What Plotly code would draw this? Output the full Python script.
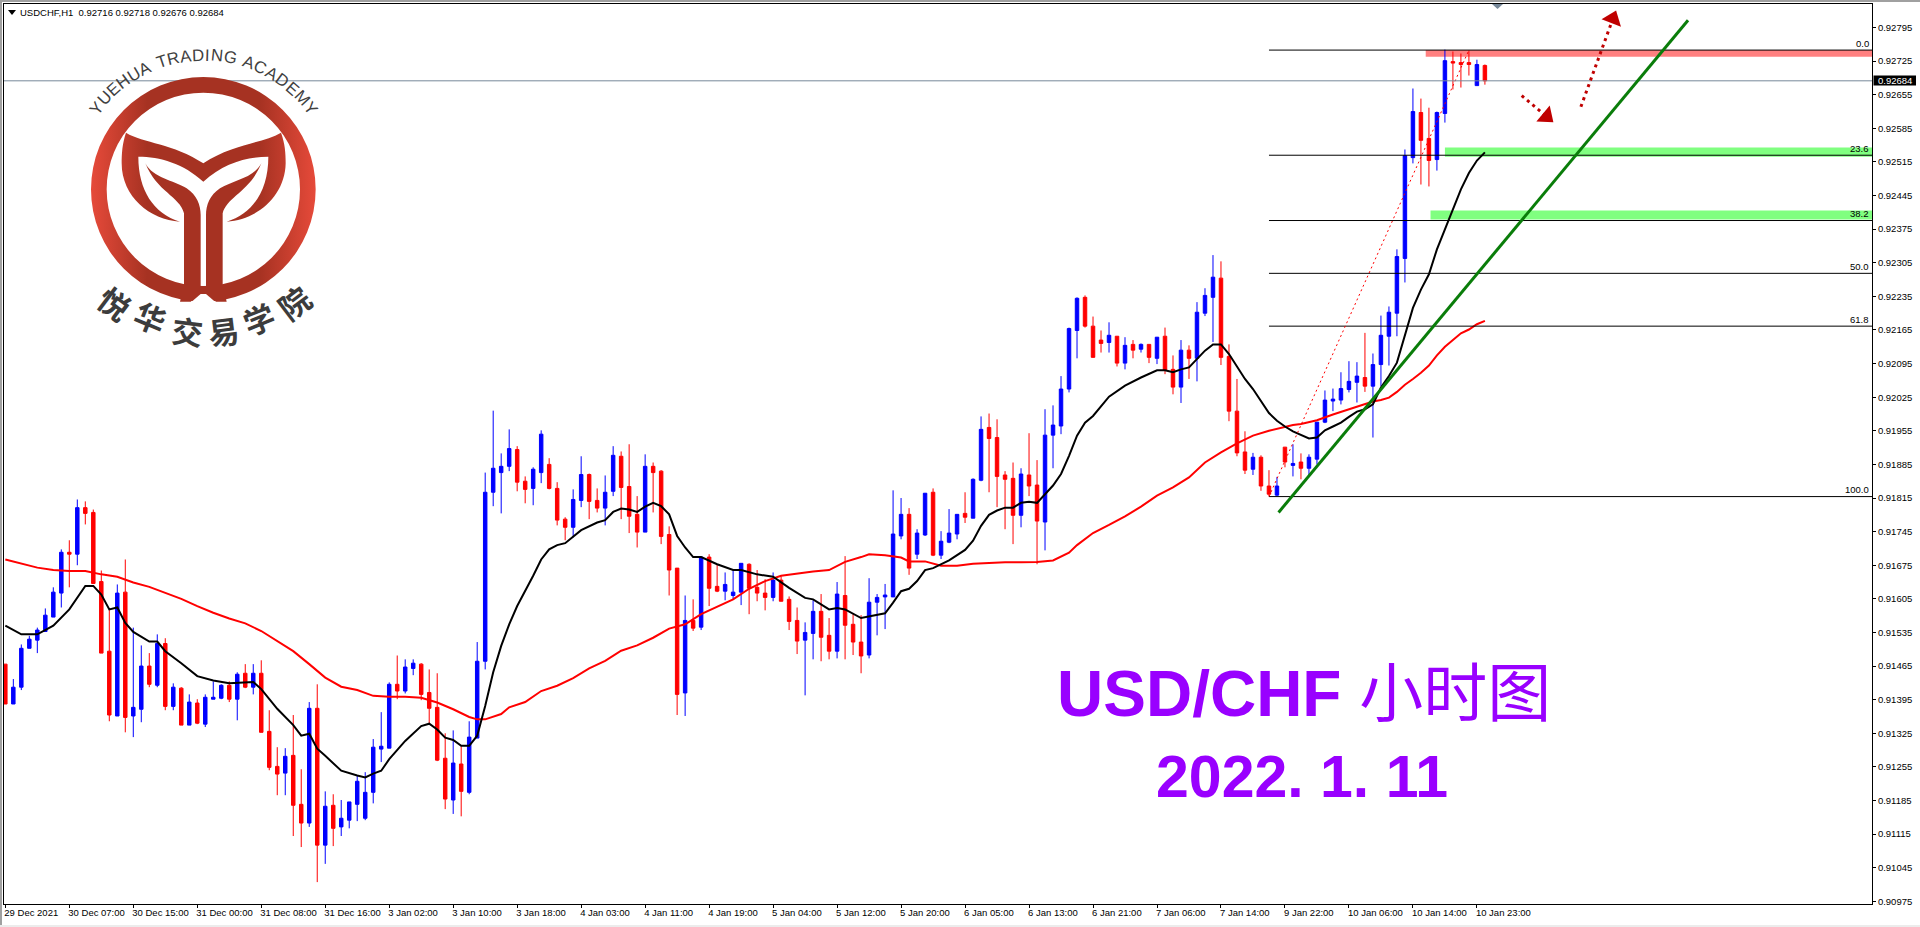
import base64, math
import plotly.graph_objects as go

# ---- data (prices in 1e-5 units, i.e. 91469 = 0.91469) ----
open_pts = [
 91469,91386,91421,91502,91519,91537,91567,91617,91702,91698,
 91795,91785,91641,91496,91361,91619,91361,91375,91465,91425,
 91512,91381,91419,91342,91388,91344,91396,91398,91425,91396,
 91450,91421,91450,91329,91256,91242,91279,91177,91138,91377,
 91092,91175,91130,91144,91177,91148,91202,91292,91294,91427,
 91413,91460,91469,91410,91379,91273,91186,91261,91202,91315,
 91475,91827,91868,91881,91916,91850,91835,91868,91885,91835,
 91771,91754,91810,91864,91810,91794,91829,91902,91839,91781,
 91744,91881,91871,91739,91669,91409,91560,91546,91692,91631,
 91621,91612,91619,91677,91629,91617,91608,91644,91604,91560,
 91519,91533,91579,91529,91496,91612,91552,91515,91488,91598,
 91609,91609,91736,91781,91698,91738,91827,91696,91723,91740,
 91783,91773,91852,91962,91941,91863,91856,91779,91863,91842,
 91765,91946,91965,92042,92164,92233,92173,92144,92139,92152,
 92096,92135,92125,92135,92106,92152,92083,92046,92123,92106,
 92200,92233,92273,92110,91996,91911,91875,91900,91840,91821,
 91921,91883,91890,91877,91896,91973,92017,92019,92041,92056,
 92066,92048,92093,92152,92200,92314,92524,92618,92564,92520,
 92616,92724,92722,92722,92674,92716]
high_pts = [
 91469,91438,91510,91528,91545,91585,91629,91708,91727,91812,
 91808,91791,91664,91583,91635,91687,91545,91508,91492,91531,
 91523,91429,91421,91406,91396,91406,91433,91427,91433,91452,
 91469,91469,91477,91373,91296,91294,91363,91250,91390,91427,
 91204,91198,91186,91182,91238,91244,91313,91369,91431,91487,
 91479,91479,91471,91458,91450,91325,91331,91298,91350,91515,
 91868,91997,91908,91958,91923,91860,91879,91956,91898,91848,
 91775,91833,91902,91866,91835,91862,91923,91912,91927,91819,
 91906,91889,91873,91756,91669,91612,91604,91692,91698,91677,
 91660,91667,91679,91679,91665,91646,91660,91652,91610,91587,
 91556,91602,91615,91565,91640,91694,91573,91571,91648,91615,
 91636,91831,91815,91794,91750,91825,91835,91746,91792,91781,
 91827,91856,91985,91991,91979,91871,91889,91877,91950,91894,
 92000,92008,92069,92170,92233,92237,92193,92164,92181,92152,
 92150,92144,92137,92135,92150,92170,92112,92144,92133,92223,
 92252,92321,92308,92135,92063,91954,91909,91904,91873,91859,
 91921,91927,91908,91906,91973,92039,92043,92077,92100,92098,
 92159,92116,92195,92214,92333,92541,92668,92647,92628,92620,
 92749,92745,92741,92747,92728,92718]
low_pts = [
 91386,91386,91415,91502,91492,91537,91567,91587,91629,91675,
 91760,91637,91492,91350,91361,91327,91317,91348,91421,91421,
 91373,91373,91342,91342,91344,91338,91396,91396,91390,91352,
 91419,91406,91327,91248,91196,91196,91111,91088,91130,91015,
 91053,91090,91111,91127,91142,91144,91179,91265,91294,91396,
 91408,91446,91394,91344,91267,91167,91157,91152,91198,91315,
 91458,91798,91783,91871,91829,91804,91800,91846,91833,91758,
 91727,91733,91796,91771,91785,91758,91819,91771,91742,91712,
 91744,91785,91719,91612,91363,91361,91538,91540,91590,91619,
 91602,91604,91592,91573,91600,91581,91600,91600,91540,91490,
 91404,91479,91475,91479,91481,91479,91488,91450,91481,91529,
 91542,91609,91729,91655,91688,91736,91694,91688,91721,91729,
 91763,91773,91850,91827,91796,91750,91719,91754,91819,91677,
 91706,91877,91948,92035,92106,92170,92108,92118,92118,92089,
 92083,92106,92118,92096,92094,92073,92031,92013,92063,92058,
 92194,92140,92092,91975,91902,91865,91863,91830,91819,91819,
 91879,91860,91854,91862,91885,91971,91996,92010,92035,92014,
 92036,91941,92048,92091,92152,92264,92512,92468,92464,92497,
 92597,92666,92670,92695,92674,92676]
close_pts = [
 91386,91421,91502,91521,91540,91571,91619,91702,91698,91795,
 91783,91637,91492,91363,91617,91358,91379,91465,91427,91512,
 91381,91421,91342,91390,91346,91400,91400,91425,91396,91448,
 91421,91450,91327,91254,91240,91277,91175,91138,91377,91092,
 91173,91127,91148,91182,91225,91202,91296,91298,91427,91413,
 91463,91471,91406,91377,91269,91188,91263,91204,91317,91475,
 91827,91877,91881,91918,91848,91833,91875,91948,91835,91769,
 91754,91812,91864,91808,91794,91827,91904,91837,91777,91744,
 91881,91868,91735,91665,91406,91560,91544,91692,91627,91621,
 91635,91619,91679,91627,91617,91608,91644,91600,91558,91517,
 91535,91579,91525,91496,91615,91550,91515,91486,91598,91608,
 91613,91740,91781,91669,91742,91825,91696,91725,91742,91781,
 91775,91854,91958,91939,91860,91854,91779,91865,91840,91767,
 91946,91967,92042,92168,92231,92173,92108,92137,92154,92096,
 92133,92123,92135,92108,92150,92081,92046,92123,92106,92202,
 92237,92275,92108,91996,91909,91873,91900,91840,91823,91840,
 91890,91887,91877,91900,91973,92019,92021,92043,92058,92069,
 92048,92093,92154,92202,92318,92528,92620,92560,92518,92618,
 92726,92721,92718,92718,92718,92684]

time_labels = ["29 Dec 2021","30 Dec 07:00","30 Dec 15:00","31 Dec 00:00","31 Dec 08:00","31 Dec 16:00",
 "3 Jan 02:00","3 Jan 10:00","3 Jan 18:00","4 Jan 03:00","4 Jan 11:00","4 Jan 19:00",
 "5 Jan 04:00","5 Jan 12:00","5 Jan 20:00","6 Jan 05:00","6 Jan 13:00","6 Jan 21:00",
 "7 Jan 06:00","7 Jan 14:00","9 Jan 22:00","10 Jan 06:00","10 Jan 14:00","10 Jan 23:00"]
time_ticks = list(range(0, 186, 8))

price_tick_pts = [92795,92725,92655,92585,92515,92445,92375,92305,92235,92165,92095,92025,91955,
 91885,91815,91745,91675,91605,91535,91465,91395,91325,91255,91185,91115,91045,90975]

fast_ma_bars = [0,2,4,6,8,10,11,12,13,14,15,16,18,19,20,22,24,26,28,30,31,32,34,36,37,38,39,40,42,44,45,46,47,48,50,52,53,54,55,56,57,58,
 59,60,61,62,63,64,65,66,67,68,69,70,72,74,75,76,77,78,79,80,81,82,83,84,85,86,87,89,91,92,94,96,98,100,101,103,104,105,107,108,110,111,112,113,114,
 115,116,118,120,121,122,123,124,125,126,127,128,129,130,131,132,133,134,135,136,137,138,140,142,144,145,146,147,148,149,150,151,152,153,154,155,156,157,158,159,160,161,
 162,163,164,165,166,167,168,169,170,171,172,173,174,175,176,177,178,179,180,181,182,183,184,185]
fast_ma_pts = [91549,91531,91531,91549,91583,91632,91632,91614,91583,91587,91555,91536,91516,91516,91496,91471,91444,91435,91429,91432,91432,91417,91376,91342,91320,91324,91293,91278,91247,91237,91233,91241,91247,91271,91309,91340,91345,91333,91316,91311,91299,91299,
 91320,91382,91452,91507,91552,91590,91621,91653,91687,91708,91717,91721,91748,91764,91769,91786,91793,91791,91786,91797,91805,91798,91781,91736,91712,91692,91692,91677,91665,91665,91656,91651,91628,91607,91604,91583,91586,91583,91565,91568,91575,91597,91621,91626,91642,
 91665,91669,91685,91707,91726,91757,91780,91789,91795,91795,91805,91807,91805,91823,91841,91865,91903,91945,91972,91986,92007,92026,92049,92066,92081,92081,92077,92083,92087,92104,92122,92135,92135,92115,92088,92063,92042,92016,91992,91976,91964,91954,
 91946,91939,91941,91956,91964,91972,91984,91995,92000,92010,92045,92069,92097,92152,92211,92249,92281,92333,92374,92419,92458,92492,92518,92535]

slow_ma_bars = [0,2,4,6,8,10,12,14,16,18,20,22,24,26,28,30,32,34,36,38,40,42,44,46,48,50,52,54,56,58,59,
 60,62,63,65,67,69,71,73,75,77,79,81,83,85,87,89,91,93,95,97,99,101,103,105,107,108,110,112,113,114,
 115,117,119,121,123,125,127,129,131,133,134,136,138,140,142,144,146,148,150,152,154,156,158,160,161,
 162,164,166,168,170,171,172,173,174,175,176,177,178,179,180,181,182,183,184,185]
slow_ma_pts = [91687,91679,91670,91665,91663,91663,91656,91651,91639,91630,91618,91605,91590,91576,91564,91554,91538,91517,91496,91469,91441,91422,91415,91403,91401,91401,91399,91389,91375,91359,91354,
 91354,91365,91379,91390,91413,91424,91440,91460,91476,91497,91508,91524,91543,91552,91573,91589,91604,91626,91642,91653,91658,91662,91665,91682,91692,91698,91696,91691,91683,91683,
 91683,91674,91674,91678,91680,91681,91681,91682,91685,91701,91717,91742,91759,91777,91797,91820,91837,91858,91889,91910,91929,91945,91955,91963,91967,
 91969,91977,91989,92000,92012,92016,92019,92024,92036,92051,92063,92076,92091,92112,92130,92145,92158,92166,92177,92184]

fib_names = ["0.0","23.6","38.2","50.0","61.8","100.0"]
fib_pts = [92748,92529,92393,92283,92173,91818]
last_price_pts = 92684
fib_span_bars = [158,234]
retrace_bars = [158,183]
retrace_pts = [91818,92748]
trend_bars = [159.2,210.4]
trend_pts = [91785,92810]
arrow_down_bars = [189.6,192.7]
arrow_down_pts = [92653,92610]
arrow_up_bars = [197.0,201.0]
arrow_up_pts = [92630,92813]

W, H = 1920, 927
L, R, T, B = 4, 48, 4, 23
PW, PH = W - L - R, H - T - B
XR = [-0.166, 233.4]
YR = [0.909694, 0.92844]
UP, DOWN = "#0000ff", "#ff0000"
FONT = "Liberation Sans, Arial, sans-serif"

def P(v):
    return [a / 1e5 for a in v]
def px(x):
    return (x - L) / PW
def py(y):
    return 1 - (y - T) / PH

fig = go.Figure()
fig.add_trace(go.Candlestick(
    x=list(range(len(open_pts))), open=P(open_pts), high=P(high_pts), low=P(low_pts), close=P(close_pts),
    increasing=dict(line=dict(color=UP, width=1), fillcolor=UP),
    decreasing=dict(line=dict(color=DOWN, width=1), fillcolor=DOWN),
    whiskerwidth=0, hoverinfo="skip", showlegend=False))
fig.add_trace(go.Scatter(x=slow_ma_bars, y=P(slow_ma_pts), mode="lines", line=dict(color="#ff0000", width=2), hoverinfo="skip", showlegend=False))
fig.add_trace(go.Scatter(x=fast_ma_bars, y=P(fast_ma_pts), mode="lines", line=dict(color="#000000", width=2), hoverinfo="skip", showlegend=False))
for p in fib_pts:
    fig.add_trace(go.Scatter(x=fib_span_bars, y=P([p, p]), mode="lines", line=dict(color="#000000", width=1), hoverinfo="skip", showlegend=False))
fig.add_trace(go.Scatter(x=retrace_bars, y=P(retrace_pts), mode="lines", line=dict(color="#ff0000", width=1, dash="2px,3px"), hoverinfo="skip", showlegend=False))
fig.add_trace(go.Scatter(x=XR, y=P([last_price_pts, last_price_pts]), mode="lines", line=dict(color="#778899", width=1), hoverinfo="skip", showlegend=False))
fig.add_trace(go.Scatter(x=trend_bars, y=P(trend_pts), mode="lines", line=dict(color="#0a7d0a", width=3), hoverinfo="skip", showlegend=False))
for xs, ys, ang in ((arrow_down_bars, arrow_down_pts, 130), (arrow_up_bars, arrow_up_pts, 21)):
    fig.add_trace(go.Scatter(x=xs, y=P(ys), mode="lines", line=dict(color="#c00000", width=3, dash="3px,4px"), hoverinfo="skip", showlegend=False))
    fig.add_trace(go.Scatter(x=xs[-1:], y=P(ys[-1:]), mode="markers",
                             marker=dict(symbol="triangle-up", size=18, angle=ang, color="#c00000"), hoverinfo="skip", showlegend=False))

shapes = [
    # drawn zones behind the candles
    dict(type="rect", xref="x", yref="y", x0=177.6, x1=XR[1] + 0.4, y0=0.92734, y1=0.92748, fillcolor="#ff8080", line_width=0, layer="below"),
    dict(type="rect", xref="x", yref="y", x0=180, x1=XR[1], y0=0.92526, y1=0.92545, fillcolor="#80ff80", line_width=0, layer="below"),
    dict(type="rect", xref="x", yref="y", x0=178.2, x1=XR[1], y0=0.92395, y1=0.92414, fillcolor="#80ff80", line_width=0, layer="below"),
]
def rect_px(x0, y0, x1, y1, color):
    return dict(type="rect", xref="paper", yref="paper", x0=px(x0), x1=px(x1), y0=py(y0), y1=py(y1), fillcolor=color, line_width=0, layer="above")
def tri_px(pts, color):
    path = "M " + " L ".join(f"{px(a)},{py(b)}" for a, b in pts) + " Z"
    return dict(type="path", xref="paper", yref="paper", path=path, fillcolor=color, line_width=0, layer="above")
shapes += [
    rect_px(0, 0, W, 2, "#a0a0a0"), rect_px(0, 0, 2, H, "#a0a0a0"), rect_px(0, 925, W, H, "#ececec"),
    rect_px(1873.5, 75.5, 1916, 85.5, "#000000"),
    tri_px([(8, 10), (16, 10), (12, 15)], "#000000"),
    tri_px([(1492, 4), (1503, 4), (1497.5, 9)], "#778899"),
]

ann = []
def text(x, y, s, size=10, color="#000000", anchor="center", angle=0, family=FONT):
    ann.append(dict(xref="paper", yref="paper", x=px(x), y=py(y), text=s, showarrow=False, xanchor=anchor, yanchor="middle",
                    textangle=angle, font=dict(family=family, size=size, color=color), borderpad=0, borderwidth=0))

text(20, 12.5, "USDCHF,H1&nbsp;&nbsp;0.92716 0.92718 0.92676 0.92684", 9.5, anchor="left")
text(1895, 80.5, "0.92684", 9.5, "#ffffff")
for name, p in zip(fib_names, fib_pts):
    ann.append(dict(xref="paper", yref="y", x=px(1871), y=p / 1e5, yshift=7, text=name, showarrow=False, xanchor="right", yanchor="middle",
                    font=dict(family=FONT, size=9.5, color="#000000")))

# big caption
text(1304, 694, "<b>USD/CHF</b> 小时图", 64, "#9900ff", family="Liberation Sans, Noto Sans CJK SC")
text(1302, 777, "<b>2022. 1. 11</b>", 59, "#9900ff")

# logo lettering on arcs
LCX, LCY = 203.5, 189.0
arc_text = "YUEHUA TRADING ACADEMY"
wid = {"Y":.667,"U":.722,"E":.667,"H":.722,"A":.667," ":.278,"T":.611,"R":.722,"D":.722,"I":.278,"N":.722,"G":.778,"C":.722,"M":.833}
size = 16.8
adv = [wid[c] * size + 1.0 for c in arc_text]
total = sum(adv)
pos = -total / 2
RAD = 134.0
for c, a in zip(arc_text, adv):
    th = (pos + a / 2) / RAD
    pos += a
    if c != " ":
        text(LCX + RAD * math.sin(th), LCY - RAD * math.cos(th), c, size, "#404040", angle=math.degrees(th))
cn = ["悦", "华", "交", "易", "学", "院"]
cnx = [115, 150, 187, 223, 258, 293]
cny = [302, 317, 330, 330, 318, 302]
cna = [37, 22, 7, -7, -22, -37]
for c, x, y, a in zip(cn, cnx, cny, cna):
    text(x, y, "<b>" + c + "</b>", 31, "#3c3c3c", angle=a, family="Noto Sans CJK SC")

logo_svg = '''<svg xmlns="http://www.w3.org/2000/svg" width="400" height="340" viewBox="0 0 1200 1020">
<defs><linearGradient id="g" gradientUnits="userSpaceOnUse" x1="273" y1="0" x2="947" y2="0">
<stop offset="0" stop-color="#e64a3a"/><stop offset="0.25" stop-color="#a63222"/><stop offset="0.75" stop-color="#a63222"/><stop offset="1" stop-color="#e64a3a"/>
</linearGradient></defs>
<g fill="url(#g)">
<path fill-rule="evenodd" d="M273,568 a337,337 0 1,0 674,0 a337,337 0 1,0 -674,0 Z M320,568 a290,290 0 1,0 580,0 a290,290 0 1,0 -580,0 Z"/>
<path d="M378,398 C430,430 520,430 610,490 C700,430 790,430 843,398 C855,430 857,460 857,490 C855,590 770,660 680,665 C760,640 805,570 805,470 C740,470 670,490 610,545 C550,490 480,470 415,470 C415,570 460,640 540,665 C450,660 365,590 365,490 C365,460 367,430 378,398 Z"/>
<path d="M436,490 C460,535 520,540 560,565 C590,585 602,615 602,645 L602,880 L572,905 L540,905 L552,855 L552,640 C540,590 470,575 436,490 Z"/>
<path d="M784,490 C760,535 700,540 660,565 C630,585 618,615 618,645 L618,880 L648,905 L680,905 L668,855 L668,640 C680,590 750,575 784,490 Z"/>
</g>
<path fill="#ffffff" d="M602,882 L574,906 L574,915 L646,915 L646,906 L618,882 Z"/>
</svg>'''
logo_uri = "data:image/svg+xml;base64," + base64.b64encode(logo_svg.encode()).decode()

fig.update_layout(
    width=W, height=H, margin=dict(l=L, r=R, t=T, b=B, pad=0),
    paper_bgcolor="#ffffff", plot_bgcolor="#ffffff", showlegend=False, boxgap=0.38, hovermode=False,
    shapes=shapes, annotations=ann,
    images=[dict(source=logo_uri, xref="paper", yref="paper", x=px(0), y=py(0), sizex=400 / PW, sizey=340 / PH,
                 xanchor="left", yanchor="top", sizing="stretch", layer="above")],
    xaxis=dict(range=XR, tickmode="array", tickvals=time_ticks, ticktext=time_labels, ticks="outside", ticklen=3, tickwidth=1,
               tickcolor="#000000", showgrid=False, zeroline=False, showline=True, linecolor="#000000", linewidth=1, mirror=True,
               rangeslider=dict(visible=False), ticklabelposition="outside right", ticklabelshift=-2, tickangle=0,
               tickfont=dict(family=FONT, size=9.5, color="#000000")),
    yaxis=dict(range=YR, side="right", tickmode="array", tickvals=P(price_tick_pts), ticktext=[f"{v/1e5:.5f}" for v in price_tick_pts],
               ticks="outside", ticklen=3, tickwidth=1, tickcolor="#000000", showgrid=False, zeroline=False, showline=True,
               linecolor="#000000", linewidth=1, mirror=True, tickfont=dict(family=FONT, size=9.5, color="#000000")),
)
fig.write_html("out.html", config=dict(displayModeBar=False),
               post_script="document.body.style.margin='0';document.body.style.overflow='hidden';")
